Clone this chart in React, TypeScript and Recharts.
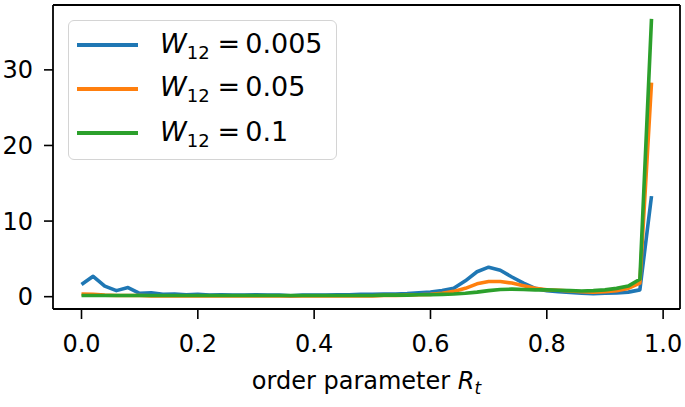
import React from 'react';
import { LineChart, Line, XAxis, YAxis, Legend, ReferenceLine } from 'recharts';

// order parameter bins
const R_VALUES = [
  0.0, 0.02, 0.04, 0.06, 0.08, 0.1, 0.12, 0.14, 0.16, 0.18,
  0.2, 0.22, 0.24, 0.26, 0.28, 0.3, 0.32, 0.34, 0.36, 0.38,
  0.4, 0.42, 0.44, 0.46, 0.48, 0.5, 0.52, 0.54, 0.56, 0.58,
  0.6, 0.62, 0.64, 0.66, 0.68, 0.7, 0.72, 0.74, 0.76, 0.78,
  0.8, 0.82, 0.84, 0.86, 0.88, 0.9, 0.92, 0.94, 0.96, 0.98,
];

const W_0005 = [
  1.6, 2.7, 1.4, 0.8, 1.2, 0.45, 0.5, 0.3, 0.35, 0.25,
  0.3, 0.2, 0.25, 0.2, 0.2, 0.25, 0.2, 0.2, 0.1, 0.2,
  0.2, 0.2, 0.25, 0.25, 0.3, 0.3, 0.35, 0.35, 0.4, 0.5,
  0.6, 0.8, 1.1, 2.1, 3.3, 3.9, 3.5, 2.6, 1.8, 1.1,
  0.8, 0.65, 0.55, 0.45, 0.4, 0.45, 0.5, 0.6, 0.9, 13.3,
];

const W_005 = [
  0.35, 0.3, 0.2, 0.15, 0.15, 0.15, 0.1, 0.1, 0.1, 0.1,
  0.1, 0.1, 0.1, 0.1, 0.1, 0.1, 0.1, 0.1, 0.1, 0.1,
  0.1, 0.1, 0.1, 0.1, 0.1, 0.1, 0.15, 0.15, 0.2, 0.25,
  0.3, 0.45, 0.7, 1.1, 1.7, 2.0, 2.0, 1.8, 1.45, 1.1,
  0.9, 0.85, 0.75, 0.65, 0.6, 0.65, 0.8, 1.1, 1.8, 28.3,
];

const W_01 = [
  0.15, 0.15, 0.15, 0.15, 0.15, 0.15, 0.15, 0.15, 0.15, 0.15,
  0.15, 0.15, 0.15, 0.15, 0.15, 0.15, 0.15, 0.15, 0.15, 0.15,
  0.15, 0.15, 0.15, 0.15, 0.15, 0.15, 0.2, 0.2, 0.2, 0.25,
  0.25, 0.3, 0.35, 0.45, 0.6, 0.8, 0.95, 1.0, 0.95, 0.9,
  0.9, 0.85, 0.8, 0.75, 0.8, 0.9, 1.1, 1.4, 2.3, 36.75,
];

const X_TICKS = [0, 0.2, 0.4, 0.6, 0.8, 1.0];
const Y_TICKS = [0, 10, 20, 30];
const X_DOMAIN = [-0.049, 1.029];
const Y_DOMAIN = [-1.63, 38.58];

const SERIES = [
  { key: 'w0005', label: '0.005', color: '#1f77b4', values: W_0005 },
  { key: 'w005', label: '0.05', color: '#ff7f0e', values: W_005 },
  { key: 'w01', label: '0.1', color: '#2ca02c', values: W_01 },
];

const data = R_VALUES.map((r, i) => {
  const row: Record<string, number> = { r };
  SERIES.forEach((s) => { row[s.key] = s.values[i]; });
  return row;
});

const FONT = '"DejaVu Sans", sans-serif';

const LegendBox = () => (
  <div style={{
    position: 'relative', width: 269, height: 140, boxSizing: 'border-box',
    border: '1.5px solid #d4d4d4', borderRadius: 6, background: 'rgba(255,255,255,0.8)',
    fontFamily: FONT, fontSize: 27, color: '#000',
  }}>
    {SERIES.map((s, i) => (
      <div key={s.key} style={{
        position: 'absolute', left: 0, top: [2, 45.5, 90][i], height: 44,
        display: 'flex', alignItems: 'center', whiteSpace: 'nowrap',
      }}>
        <div style={{ marginLeft: 8, width: 61, height: 4, background: s.color }} />
        <div style={{ marginLeft: 22, lineHeight: '44px' }}>
          <span style={{ fontStyle: 'italic' }}>W</span>
          <span style={{ fontSize: 18, position: 'relative', top: 6 }}>12</span>
          <span style={{ margin: '0 5px 0 8px' }}>=</span>
          <span>{s.label}</span>
        </div>
      </div>
    ))}
  </div>
);

const AxisTitle = (props: any) => {
  const vb = props.viewBox || { x: 53, width: 627 };
  return (
    <text x={vb.x + vb.width / 2} y={389} textAnchor="middle" fontFamily={FONT} fontSize={24} fill="#000">
      <tspan>order parameter </tspan>
      <tspan fontStyle="italic">R</tspan>
      <tspan fontStyle="italic" fontSize={17} dy={5}>t</tspan>
    </text>
  );
};

const tickStyle = { fill: '#000', fontSize: 24, fontFamily: FONT };
const lineStyle = { stroke: '#000', strokeWidth: 1.8 };

export default function App() {
  return (
    <div style={{ position: 'absolute', left: 0, top: 0, background: '#fff', fontFamily: FONT }}>
      <LineChart width={685} height={407} data={data} margin={{ top: 5, right: 5, left: 0, bottom: 0 }}>
        <XAxis
          dataKey="r"
          type="number"
          domain={X_DOMAIN}
          allowDataOverflow
          ticks={X_TICKS}
          tickFormatter={(v: number) => v.toFixed(1)}
          tick={tickStyle}
          tickSize={10}
          tickMargin={16}
          axisLine={lineStyle}
          tickLine={{ stroke: '#000', strokeWidth: 1.6 }}
          height={98}
          label={<AxisTitle />}
        />
        <YAxis
          type="number"
          domain={Y_DOMAIN}
          allowDataOverflow
          ticks={Y_TICKS}
          tick={tickStyle}
          tickSize={9}
          tickMargin={11}
          axisLine={lineStyle}
          tickLine={{ stroke: '#000', strokeWidth: 1.6 }}
          width={53}
        />
        {/* top and right spines */}
        <ReferenceLine y={Y_DOMAIN[1]} stroke="#000" strokeWidth={1.8} />
        <ReferenceLine x={X_DOMAIN[1]} stroke="#000" strokeWidth={1.8} />
        {SERIES.map((s) => (
          <Line
            key={s.key}
            dataKey={s.key}
            stroke={s.color}
            strokeWidth={3.6}
            strokeLinejoin="round"
            dot={false}
            activeDot={false}
            isAnimationActive={false}
          />
        ))}
        <Legend
          layout="vertical"
          align="center"
          verticalAlign="middle"
          content={() => <LegendBox />}
          wrapperStyle={{ left: 68, top: 20, width: 269, height: 140 }}
        />
      </LineChart>
    </div>
  );
}
